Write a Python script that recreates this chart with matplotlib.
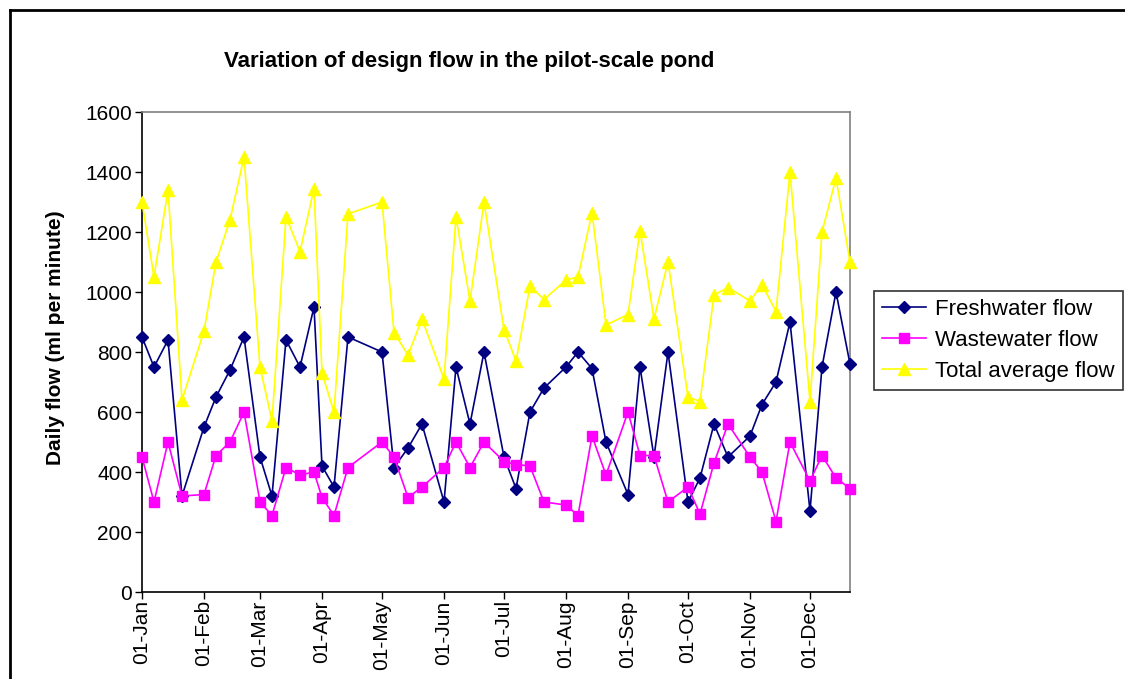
import matplotlib
matplotlib.use("Agg")
import matplotlib.pyplot as plt
import matplotlib.dates as mdates
from matplotlib.lines import Line2D
import datetime as dt

plt.rcParams['font.family'] = ['Liberation Sans', 'DejaVu Sans']

# ---- data ----
dates_str = [
    "01-01", "01-07", "01-14", "01-21",
    "02-01", "02-07", "02-14", "02-21",
    "03-01", "03-07", "03-14", "03-21", "03-28",
    "04-01", "04-07", "04-14",
    "05-01", "05-07", "05-14", "05-21",
    "06-01", "06-07", "06-14", "06-21",
    "07-01", "07-07", "07-14", "07-21",
    "08-01", "08-07", "08-14", "08-21",
    "09-01", "09-07", "09-14", "09-21",
    "10-01", "10-07", "10-14", "10-21",
    "11-01", "11-07", "11-14", "11-21",
    "12-01", "12-07", "12-14", "12-21",
]
freshwater = [850, 750, 840, 320, 550, 650, 740, 850, 450, 320, 840, 750, 950,
              420, 350, 850, 800, 415, 480, 560, 300, 750, 560, 800,
              450, 345, 600, 680, 750, 800, 745, 500, 325, 750, 450, 800,
              300, 380, 560, 450, 520, 625, 700, 900, 270, 750, 1000, 760]
wastewater = [450, 300, 500, 320, 325, 455, 500, 600, 300, 255, 415, 390, 400,
              315, 255, 415, 500, 450, 315, 350, 415, 500, 415, 500,
              435, 425, 420, 300, 290, 255, 520, 390, 600, 455, 455, 300,
              350, 260, 430, 560, 450, 400, 235, 500, 370, 455, 380, 345]
total_avg = [1300, 1050, 1340, 640, 870, 1100, 1240, 1450, 750, 570, 1250, 1135, 1345,
             730, 600, 1260, 1300, 865, 790, 910, 710, 1250, 970, 1300,
             875, 770, 1020, 975, 1040, 1050, 1265, 890, 925, 1205, 910, 1100,
             650, 635, 990, 1015, 970, 1025, 935, 1400, 635, 1200, 1380, 1100]
series_names = ["Freshwater flow", "Wastewater flow", "Total average flow"]
title = "Variation of design flow in the pilot-scale pond"
ylabel = "Daily flow (ml per minute)"

YEAR = 2007
dates = [dt.datetime.strptime(f"{YEAR}-{s}", "%Y-%m-%d") for s in dates_str]

W, H = 1125, 679
fig = plt.figure(figsize=(W / 100, H / 100), dpi=100)

# plot area in pixels
L, R, T, B = 142, 850, 112, 592
ax = fig.add_axes([L / W, (H - B) / H, (R - L) / W, (B - T) / H])

lw = 1.2
ax.plot(dates, freshwater, color='#000080', marker='D', markersize=6.5, lw=lw,
        label=series_names[0], clip_on=False, zorder=3)
ax.plot(dates, wastewater, color='#FF00FF', marker='s', markersize=6.5, lw=lw,
        label=series_names[1], clip_on=False, zorder=3)
ax.plot(dates, total_avg, color='#FFFF00', marker='^', markersize=8, lw=lw,
        label=series_names[2], clip_on=False, zorder=3)

ax.set_xlim(dates[0], dates[-1])
ax.set_ylim(0, 1600)
ax.set_yticks(range(0, 1601, 200))
ax.xaxis.set_major_locator(mdates.MonthLocator())
ax.xaxis.set_major_formatter(mdates.DateFormatter('%d-%b'))
for lab in ax.get_xticklabels():
    lab.set_rotation(90)

ax.tick_params(axis='both', labelsize=15, direction='out', length=5, width=1, color='black')
ax.tick_params(axis='x', pad=1)
ax.tick_params(axis='y', pad=2)

for side in ['left', 'bottom']:
    ax.spines[side].set_color('black')
    ax.spines[side].set_linewidth(1.2)
for side in ['top', 'right']:
    ax.spines[side].set_color('#808080')
    ax.spines[side].set_linewidth(1.2)

ax.set_ylabel(ylabel, fontsize=15, fontweight='bold')
ax.yaxis.set_label_coords((55 - L) / (R - L), (B - 338) / (B - T))
ax.yaxis.label.set_va('center')

fig.text(469 / W, 1 - 61 / H, title, fontsize=16, fontweight='bold',
         ha='center', va='center')

leg = fig.legend(loc='upper left', bbox_to_anchor=(874 / W, 1 - 291 / H),
                 fontsize=16, frameon=True, fancybox=False, handlelength=2.0,
                 handletextpad=0.4, borderpad=0.35, labelspacing=0.45,
                 borderaxespad=0)
leg.get_frame().set_edgecolor('black')
leg.get_frame().set_linewidth(1.2)

# chart-area border (top and left edges visible)
fig.add_artist(Line2D([10 / W, 10 / W], [0, 1 - 10 / H], transform=fig.transFigure,
                      color='black', lw=2))
fig.add_artist(Line2D([10 / W, 1], [1 - 10 / H, 1 - 10 / H], transform=fig.transFigure,
                      color='black', lw=2))

fig.savefig("out.png", dpi=100)
